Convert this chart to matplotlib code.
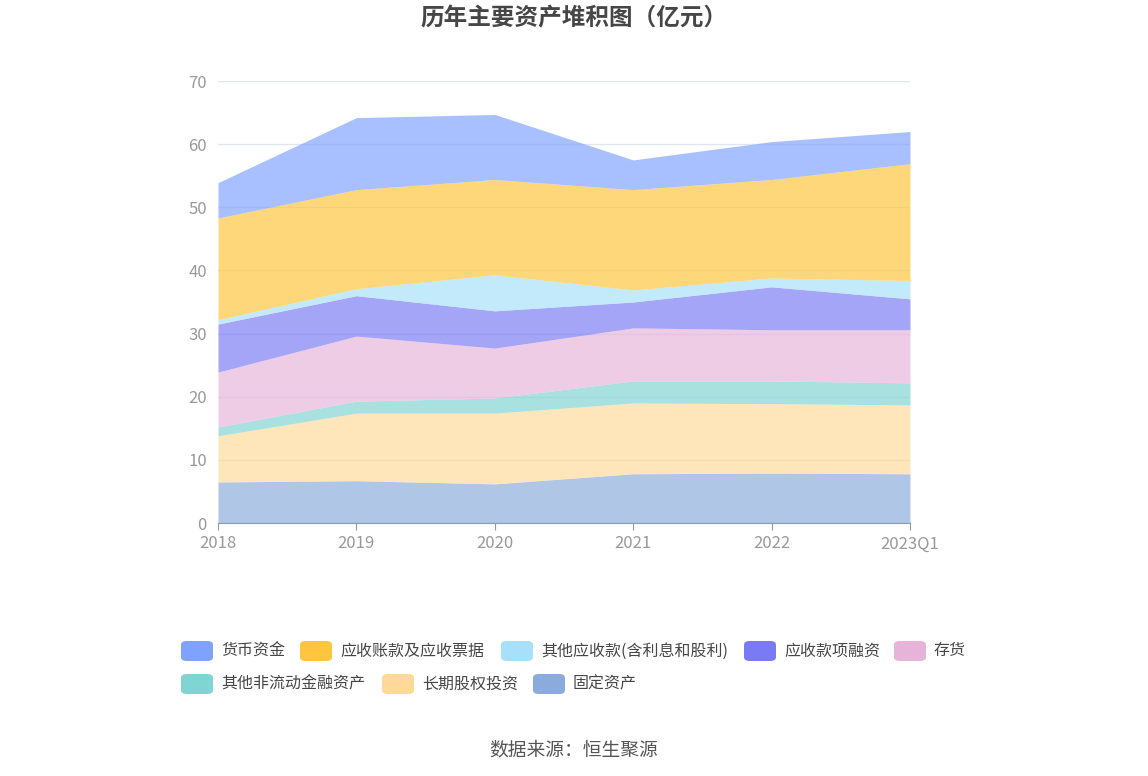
import numpy as np
import matplotlib
matplotlib.use("Agg")
import matplotlib.pyplot as plt
from matplotlib.patches import FancyBboxPatch

plt.rcParams['font.family'] = ['Noto Sans CJK SC', 'DejaVu Sans']

# data (亿元), bottom layer first
years = ['2018', '2019', '2020', '2021', '2022', '2023Q1']
fixed_assets = [6.5, 6.7, 6.2, 7.8, 7.9, 7.8]
lt_equity = [7.3, 10.7, 11.2, 11.2, 11.0, 10.9]
other_noncur_fin = [1.4, 1.9, 2.4, 3.5, 3.6, 3.5]
inventory = [8.7, 10.3, 7.9, 8.4, 8.1, 8.4]
recv_financing = [7.6, 6.4, 5.9, 4.1, 6.8, 4.9]
other_recv = [0.7, 1.1, 5.7, 1.9, 1.4, 2.9]
accounts_recv = [16.1, 15.7, 15.1, 15.9, 15.6, 18.5]
cash = [5.6, 11.4, 10.3, 4.7, 6.0, 5.1]

layers = [
    ('固定资产', fixed_assets, '#8AABDB'),
    ('长期股权投资', lt_equity, '#FFD99A'),
    ('其他非流动金融资产', other_noncur_fin, '#80D4D4'),
    ('存货', inventory, '#E6B4D9'),
    ('应收款项融资', recv_financing, '#7A7AF5'),
    ('其他应收款(含利息和股利)', other_recv, '#A6E0FA'),
    ('应收账款及应收票据', accounts_recv, '#FFC53D'),
    ('货币资金', cash, '#7FA2FF'),
]

fig = plt.figure(figsize=(11.48, 7.76), dpi=100)
ax = fig.add_axes([218 / 1148, 1 - 523 / 776, (910 - 218) / 1148, (523 - 81) / 776])

x = np.arange(len(years))
base = np.zeros(len(years))
for name, vals, color in layers:
    top = base + np.array(vals)
    ax.fill_between(x, base, top, color=color, alpha=0.68, linewidth=0, zorder=2)
    base = top

ax.set_xlim(0, len(years) - 1)
ax.set_ylim(0, 70)
ax.set_yticks(range(0, 71, 10))
ax.grid(axis='y', color='#E0E6F1', linewidth=1, zorder=1)
ax.set_axisbelow(True)
for s in ['top', 'right', 'left']:
    ax.spines[s].set_visible(False)
ax.spines['bottom'].set_color('#8C9BB5')
ax.spines['bottom'].set_zorder(3)
ax.set_xticks(x)
ax.set_xticklabels(years)
ax.tick_params(axis='x', colors='#8C9BB5', length=5, labelcolor='#999999', labelsize=12, pad=4)
ax.tick_params(axis='y', length=0, labelcolor='#999999', labelsize=12, pad=8)

fig.text(0.5, 1 - 18 / 776, '历年主要资产堆积图（亿元）', ha='center', va='center',
         fontsize=17, fontweight='bold', color='#464646')
fig.text(0.5, 1 - 750 / 776, '数据来源：恒生聚源', ha='center', va='center',
         fontsize=13.5, color='#555555')

# legend (order as shown in the reference)
legend_items = [
    ('货币资金', '#7FA2FF', 181, 651),
    ('应收账款及应收票据', '#FFC53D', 300, 651),
    ('其他应收款(含利息和股利)', '#A6E0FA', 501, 651),
    ('应收款项融资', '#7A7AF5', 744, 651),
    ('存货', '#E6B4D9', 894, 651),
    ('其他非流动金融资产', '#80D4D4', 181, 684),
    ('长期股权投资', '#FFD99A', 382, 684),
    ('固定资产', '#8AABDB', 533, 684),
]
W, H = 1148, 776
for name, color, px, py in legend_items:
    box = FancyBboxPatch((px / W, 1 - (py + 10) / H), 32 / W, 20 / H,
                         boxstyle='round,pad=0,rounding_size=0.005',
                         transform=fig.transFigure, facecolor=color,
                         edgecolor='none')
    fig.patches.append(box)
    fig.text((px + 40) / W, 1 - py / H, name, ha='left', va='center',
             fontsize=11.5, color='#464646')

fig.savefig('out.png', dpi=100)
